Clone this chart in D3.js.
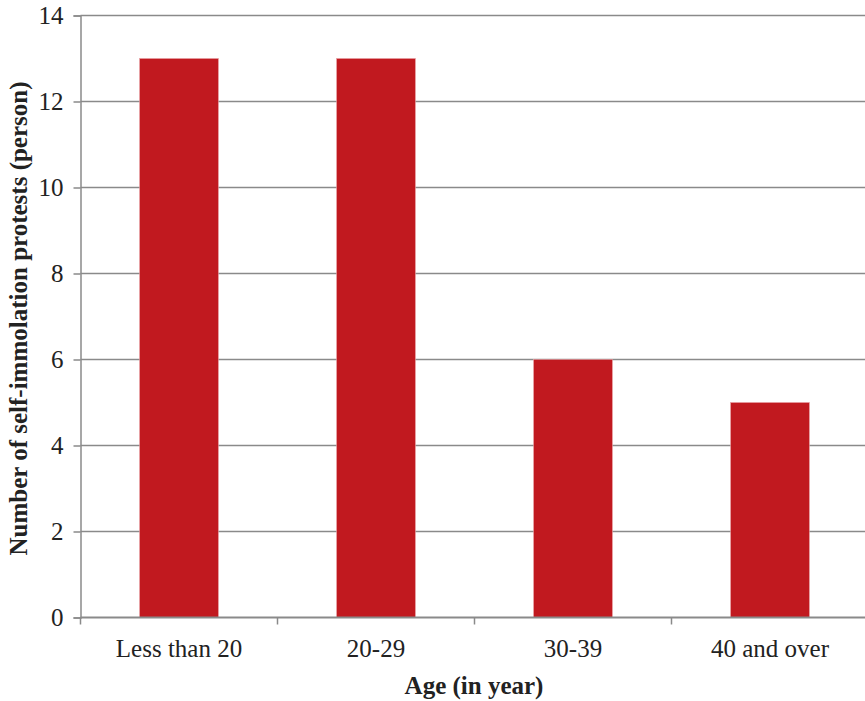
<!DOCTYPE html>
<html>
<head>
<meta charset="utf-8">
<script src="https://cdn.jsdelivr.net/npm/d3@7"></script>
<style>
  html, body { margin: 0; padding: 0; background: #fff; }
  svg { display: block; }
  svg text { font-family: "Liberation Serif", Tinos, "Times New Roman", Times, "DejaVu Serif", serif; }
</style>
</head>
<body>
<svg id="chart" width="865" height="701"></svg>
<script>
// Age groups and number of self-immolation protests in each
const categories = ["Less than 20", "20-29", "30-39", "40 and over"];
const counts = [13, 13, 6, 5];
const yTicks = [0, 2, 4, 6, 8, 10, 12, 14];

const width = 865, height = 701;
const margin = { top: 15.5, right: -3.5, bottom: 83.5, left: 80.5 };

const svg = d3.select("#chart");
const innerW = width - margin.left - margin.right;
const innerH = height - margin.top - margin.bottom;

const g = svg.append("g").attr("transform", `translate(${margin.left},${margin.top})`);

const x = d3.scaleBand().domain(categories).range([0, innerW]).paddingInner(0.6).paddingOuter(0.3);
const xOuter = d3.scaleBand().domain(categories).range([0, innerW]).padding(0);
const y = d3.scaleLinear().domain([0, 14]).range([innerH, 0]);

const gridColor = "#8a8a8a";
const labelSize = 25;

// horizontal gridlines
g.append("g")
  .selectAll("line")
  .data(yTicks.filter(d => d > 0))
  .join("line")
  .attr("x1", 0).attr("x2", innerW)
  .attr("y1", d => y(d)).attr("y2", d => y(d))
  .attr("stroke", gridColor).attr("stroke-width", 1.5);

// bars
g.append("g")
  .selectAll("rect")
  .data(categories)
  .join("rect")
  .attr("x", d => x(d))
  .attr("width", x.bandwidth())
  .attr("y", (d, i) => y(counts[i]))
  .attr("height", (d, i) => y(0) - y(counts[i]))
  .attr("fill", "#c1191f")
  .attr("stroke", "#e8a0a3")
  .attr("stroke-width", 0.6);

// y axis
const yAxis = g.append("g")
  .call(d3.axisLeft(y).tickValues(yTicks).tickSize(7).tickPadding(10).tickFormat(d3.format("d")));
yAxis.attr("font-family", null);
yAxis.select(".domain").attr("stroke", gridColor).attr("stroke-width", 1.5);
yAxis.selectAll(".tick line").attr("stroke", gridColor).attr("stroke-width", 1.5);
yAxis.selectAll(".tick text")
  .attr("font-size", labelSize).attr("fill", "#222");

// x axis with boundary ticks between categories
const boundaries = categories.map(c => xOuter(c)).concat([innerW]);
const xAxisG = g.append("g").attr("transform", `translate(0,${innerH})`);
xAxisG.append("line")
  .attr("x1", 0).attr("x2", innerW).attr("y1", 0).attr("y2", 0)
  .attr("stroke", gridColor).attr("stroke-width", 2);
xAxisG.selectAll("line.bt")
  .data(boundaries)
  .join("line")
  .attr("class", "bt")
  .attr("x1", d => d).attr("x2", d => d)
  .attr("y1", 0).attr("y2", 7)
  .attr("stroke", gridColor).attr("stroke-width", 1.5);
xAxisG.selectAll("text")
  .data(categories)
  .join("text")
  .attr("x", d => xOuter(d) + xOuter.bandwidth() / 2)
  .attr("y", 39)
  .attr("text-anchor", "middle")
  .attr("font-size", labelSize).attr("fill", "#222")
  .text(d => d);

// axis titles
svg.append("text")
  .attr("x", 474).attr("y", 694)
  .attr("text-anchor", "middle")
  .attr("font-size", 25).attr("font-weight", "bold").attr("fill", "#222")
  .text("Age (in year)");

svg.append("text")
  .attr("transform", `translate(27,${margin.top + innerH / 2 + 2}) rotate(-90)`)
  .attr("text-anchor", "middle")
  .attr("font-size", 25).attr("font-weight", "bold").attr("fill", "#222")
  .text("Number of self-immolation protests (person)");
</script>
</body>
</html>
